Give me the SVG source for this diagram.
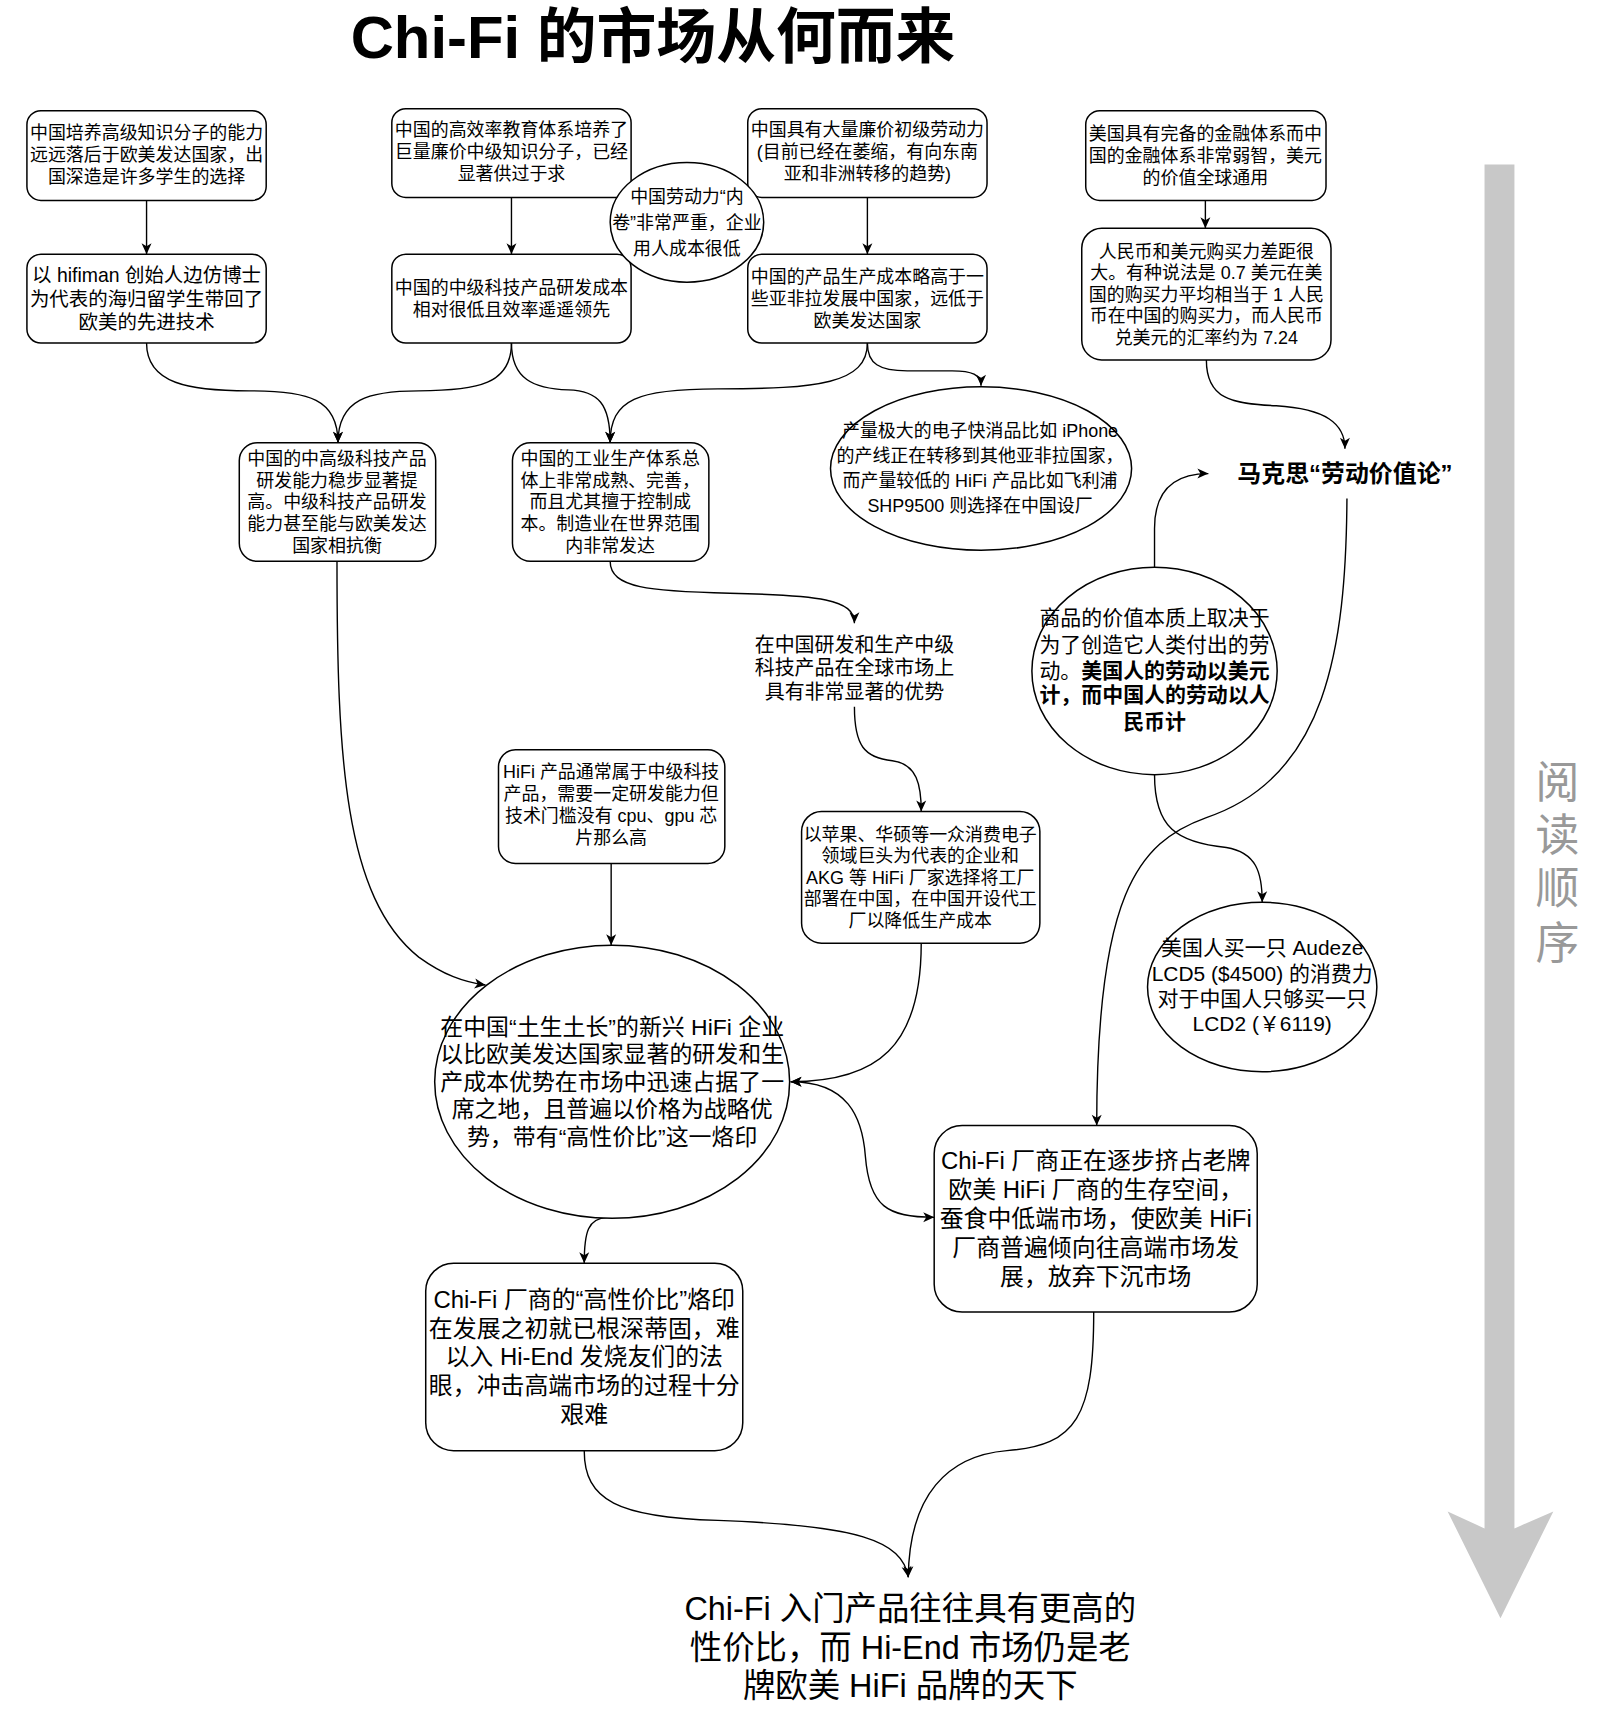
<svg xmlns="http://www.w3.org/2000/svg" width="1605" height="1720" viewBox="0 0 1605 1720">
<style>
text{font-family:"Liberation Sans","Noto Sans CJK SC",sans-serif;fill:#000;text-anchor:middle}
.n{fill:#fff;stroke:#000;stroke-width:1.5}
.f18{font-size:18px}.f195{font-size:19.5px}.f20{font-size:20px}.f21{font-size:21px}.f23{font-size:23px}.f24{font-size:24px}.f32{font-size:32.5px}
.b{font-weight:bold}
.e{fill:none;stroke:#000;stroke-width:1.4}
.ah{marker-end:url(#arr)}
.bi{marker-start:url(#arr);marker-end:url(#arr)}
.ro{font-size:44px;fill:#999}
</style>
<defs>
<marker id="arr" markerUnits="userSpaceOnUse" markerWidth="14" markerHeight="12" refX="12" refY="6" orient="auto-start-reverse">
<path d="M1,1 L12,6 L1,11 L4,6 Z" fill="#000"/>
</marker>
</defs>
<rect width="1605" height="1720" fill="#fff"/>
<g id="diagram" transform="scale(0.997)">
<text x="655" y="58" class="b" style="font-size:60px">Chi-Fi 的市场从何而来</text>

<g id="reading-order">
<polygon points="1489,165 1519,165 1519,1533 1558,1516 1505,1623 1452,1516 1489,1533" fill="#c8c8c8"/>
<text class="ro" x="1562" y="800">阅</text>
<text class="ro" x="1562" y="854">读</text>
<text class="ro" x="1562" y="907">顺</text>
<text class="ro" x="1562" y="962">序</text>
</g>

<g id="connectors">
<path class="e ah" d="M147,201 L147,255"/>
<path class="e ah" d="M513,198 L513,255"/>
<path class="e ah" d="M870,198 L870,255"/>
<path class="e ah" d="M1209,201 L1209,229"/>
<path class="e ah" d="M147,344 C147,385 190,392 250,392 C310,392 339,400 339,444"/>
<path class="e ah" d="M513,344 C513,385 480,392 420,392 C370,392 339,400 339,444"/>
<path class="e ah" d="M513,344 C513,380 535,390 570,391 C600,392 612,405 612,444"/>
<path class="e ah" d="M870,344 C870,385 820,390 720,390 C640,390 612,400 612,444"/>
<path class="e ah" d="M870,344 C870,365 882,372 910,372 L955,372 C975,372 984,376 984,387"/>
<path class="e ah" d="M612,563 C612,590 652,593 732,595 C822,597 857,601 857,625"/>
<path class="e ah" d="M857,709 C857,748 867,760 895,763 C920,766 924,788 924,814"/>
<path class="e ah" d="M613,866 L613,948"/>
<path class="e ah" d="M338,563 C338,760 345,900 420,960 C445,978 465,985 487,988"/>
<path class="e ah" d="M924,946 C924,1050 880,1085 793,1085"/>
<path class="e bi" d="M793,1085 C850,1085 865,1120 868,1160 C872,1210 890,1221 937,1221"/>
<path class="e ah" d="M1210,361 C1210,400 1235,405 1280,407 C1330,410 1349,425 1349,450"/>
<path class="e ah" d="M1158,569 L1158,530 C1158,495 1175,475 1212,475"/>
<path class="e ah" d="M1351,500 C1350,650 1330,780 1210,820 C1140,845 1100,900 1100,1129"/>
<path class="e ah" d="M1158,777 C1158,830 1180,845 1230,850 C1260,855 1266,875 1266,905"/>
<path class="e ah" d="M609,1221 C590,1222 586,1235 586,1267"/>
<path class="e ah" d="M586,1455 C586,1505 620,1522 720,1525 C860,1530 905,1545 911,1582"/>
<path class="e ah" d="M1097,1316 C1097,1420 1080,1450 1010,1455 C950,1460 912,1500 911,1582"/>
</g>

<g id="n1">
<rect class="n" x="27" y="111" width="240" height="90" rx="14"/>
<text class="f18" x="147" y="139.5">中国培养高级知识分子的能力</text>
<text class="f18" x="147" y="161.5">远远落后于欧美发达国家，出</text>
<text class="f18" x="147" y="183.5">国深造是许多学生的选择</text>
</g>
<g id="n2">
<rect class="n" x="27" y="255" width="240" height="89" rx="14"/>
<text class="f195" x="147" y="283.1">以 hifiman 创始人边仿博士</text>
<text class="f195" x="147" y="306.5">为代表的海归留学生带回了</text>
<text class="f195" x="147" y="329.9">欧美的先进技术</text>
</g>
<g id="n3">
<rect class="n" x="393" y="109" width="240" height="89" rx="14"/>
<text class="f18" x="513" y="136.5">中国的高效率教育体系培养了</text>
<text class="f18" x="513" y="158.5">巨量廉价中级知识分子，已经</text>
<text class="f18" x="513" y="180.5">显著供过于求</text>
</g>
<g id="n4">
<rect class="n" x="393" y="255" width="240" height="89" rx="14"/>
<text class="f18" x="513" y="295">中国的中级科技产品研发成本</text>
<text class="f18" x="513" y="317">相对很低且效率遥遥领先</text>
</g>
<g id="n5">
<rect class="n" x="750" y="109" width="240" height="89" rx="14"/>
<text class="f18" x="870" y="136.5">中国具有大量廉价初级劳动力</text>
<text class="f18" x="870" y="158.5">(目前已经在萎缩，有向东南</text>
<text class="f18" x="870" y="180.5">亚和非洲转移的趋势)</text>
</g>
<g id="n6">
<rect class="n" x="750" y="255" width="240" height="89" rx="14"/>
<text class="f18" x="870" y="284">中国的产品生产成本略高于一</text>
<text class="f18" x="870" y="306">些亚非拉发展中国家，远低于</text>
<text class="f18" x="870" y="328">欧美发达国家</text>
</g>
<g id="n7">
<ellipse class="n" cx="689" cy="223" rx="77" ry="60"/>
<text class="f18" x="689" y="203.5">中国劳动力“内</text>
<text class="f18" x="689" y="229.5">卷”非常严重，企业</text>
<text class="f18" x="689" y="255.5">用人成本很低</text>
</g>
<g id="n8">
<rect class="n" x="1089" y="111" width="241" height="90" rx="14"/>
<text class="f18" x="1209" y="140.5">美国具有完备的金融体系而中</text>
<text class="f18" x="1209" y="162.5">国的金融体系非常弱智，美元</text>
<text class="f18" x="1209" y="184.5">的价值全球通用</text>
</g>
<g id="n9">
<rect class="n" x="1085" y="229" width="250" height="132" rx="20"/>
<text class="f18" x="1210" y="258.3">人民币和美元购买力差距很</text>
<text class="f18" x="1210" y="279.9">大。有种说法是 0.7 美元在美</text>
<text class="f18" x="1210" y="301.5">国的购买力平均相当于 1 人民</text>
<text class="f18" x="1210" y="323.1">币在中国的购买力，而人民币</text>
<text class="f18" x="1210" y="344.7">兑美元的汇率约为 7.24</text>
</g>
<g id="n10">
<text class="f24 b" x="1349" y="483.6">马克思“劳动价值论”</text>
</g>
<g id="n11">
<rect class="n" x="240" y="444" width="197" height="119" rx="18"/>
<text class="f18" x="338" y="466.8">中国的中高级科技产品</text>
<text class="f18" x="338" y="488.4">研发能力稳步显著提</text>
<text class="f18" x="338" y="510">高。中级科技产品研发</text>
<text class="f18" x="338" y="531.6">能力甚至能与欧美发达</text>
<text class="f18" x="338" y="553.2">国家相抗衡</text>
</g>
<g id="n12">
<rect class="n" x="514" y="444" width="197" height="119" rx="18"/>
<text class="f18" x="612" y="466.8">中国的工业生产体系总</text>
<text class="f18" x="612" y="488.4">体上非常成熟、完善，</text>
<text class="f18" x="612" y="510">而且尤其擅于控制成</text>
<text class="f18" x="612" y="531.6">本。制造业在世界范围</text>
<text class="f18" x="612" y="553.2">内非常发达</text>
</g>
<g id="n13">
<ellipse class="n" cx="984" cy="470" rx="151" ry="82"/>
<text class="f18" x="983" y="438.5">产量极大的电子快消品比如 iPhone</text>
<text class="f18" x="983" y="463.5">的产线正在转移到其他亚非拉国家，</text>
<text class="f18" x="983" y="488.5">而产量较低的 HiFi 产品比如飞利浦</text>
<text class="f18" x="983" y="513.5">SHP9500 则选择在中国设厂</text>
</g>
<g id="n14">
<text class="f20" x="857" y="653.5">在中国研发和生产中级</text>
<text class="f20" x="857" y="677.5">科技产品在全球市场上</text>
<text class="f20" x="857" y="701">具有非常显著的优势</text>
</g>
<g id="n15">
<ellipse class="n" cx="1158" cy="673" rx="123" ry="104"/>
<text class="f21" x="1158" y="626.6">商品的价值本质上取决于</text>
<text class="f21" x="1158" y="653.6">为了创造它人类付出的劳</text>
<text class="f21" x="1158" y="679.6">动。<tspan class="b">美国人的劳动以美元</tspan></text>
<text class="f21 b" x="1158" y="704.6">计，而中国人的劳动以人</text>
<text class="f21 b" x="1158" y="731.6">民币计</text>
</g>
<g id="n16">
<rect class="n" x="500" y="752" width="227" height="114" rx="17"/>
<text class="f18" x="613" y="780.5">HiFi 产品通常属于中级科技</text>
<text class="f18" x="613" y="802.5">产品，需要一定研发能力但</text>
<text class="f18" x="613" y="824.5">技术门槛没有 cpu、gpu 芯</text>
<text class="f18" x="613" y="846.5">片那么高</text>
</g>
<g id="n17">
<rect class="n" x="804" y="814" width="239" height="132" rx="20"/>
<text class="f18" x="923" y="843.3">以苹果、华硕等一众消费电子</text>
<text class="f18" x="923" y="864.9">领域巨头为代表的企业和</text>
<text class="f18" x="923" y="886.5">AKG 等 HiFi 厂家选择将工厂</text>
<text class="f18" x="923" y="908.1">部署在中国，在中国开设代工</text>
<text class="f18" x="923" y="929.7">厂以降低生产成本</text>
</g>
<g id="n18">
<ellipse class="n" cx="1266" cy="990" rx="115" ry="85"/>
<text class="f21" x="1266" y="957.6">美国人买一只 Audeze</text>
<text class="f21" x="1266" y="983.6">LCD5 ($4500) 的消费力</text>
<text class="f21" x="1266" y="1008.6">对于中国人只够买一只</text>
<text class="f21" x="1266" y="1034.6">LCD2 (￥6119)</text>
</g>
<g id="n19">
<ellipse class="n" cx="614" cy="1085" rx="178" ry="137"/>
<text class="f23" x="614" y="1038.3">在中国“土生土长”的新兴 HiFi 企业</text>
<text class="f23" x="614" y="1065.3">以比欧美发达国家显著的研发和生</text>
<text class="f23" x="614" y="1093.3">产成本优势在市场中迅速占据了一</text>
<text class="f23" x="614" y="1120.3">席之地，且普遍以价格为战略优</text>
<text class="f23" x="614" y="1148.3">势，带有“高性价比”这一烙印</text>
</g>
<g id="n20">
<rect class="n" x="937" y="1129" width="324" height="187" rx="28"/>
<text class="f24" x="1099" y="1172.6">Chi-Fi 厂商正在逐步挤占老牌</text>
<text class="f24" x="1099" y="1201.6">欧美 HiFi 厂商的生存空间，</text>
<text class="f24" x="1099" y="1230.6">蚕食中低端市场，使欧美 HiFi</text>
<text class="f24" x="1099" y="1259.6">厂商普遍倾向往高端市场发</text>
<text class="f24" x="1099" y="1288.6">展，放弃下沉市场</text>
</g>
<g id="n21">
<rect class="n" x="427" y="1267" width="318" height="188" rx="28"/>
<text class="f24" x="586" y="1311.6">Chi-Fi 厂商的“高性价比”烙印</text>
<text class="f24" x="586" y="1340.6">在发展之初就已根深蒂固，难</text>
<text class="f24" x="586" y="1369.6">以入 Hi-End 发烧友们的法</text>
<text class="f24" x="586" y="1398.6">眼，冲击高端市场的过程十分</text>
<text class="f24" x="586" y="1427.6">艰难</text>
</g>
<g id="n22">
<text class="f32" x="913" y="1625">Chi-Fi 入门产品往往具有更高的</text>
<text class="f32" x="913" y="1664">性价比，而 Hi-End 市场仍是老</text>
<text class="f32" x="913" y="1702">牌欧美 HiFi 品牌的天下</text>
</g>
</g>
</svg>
